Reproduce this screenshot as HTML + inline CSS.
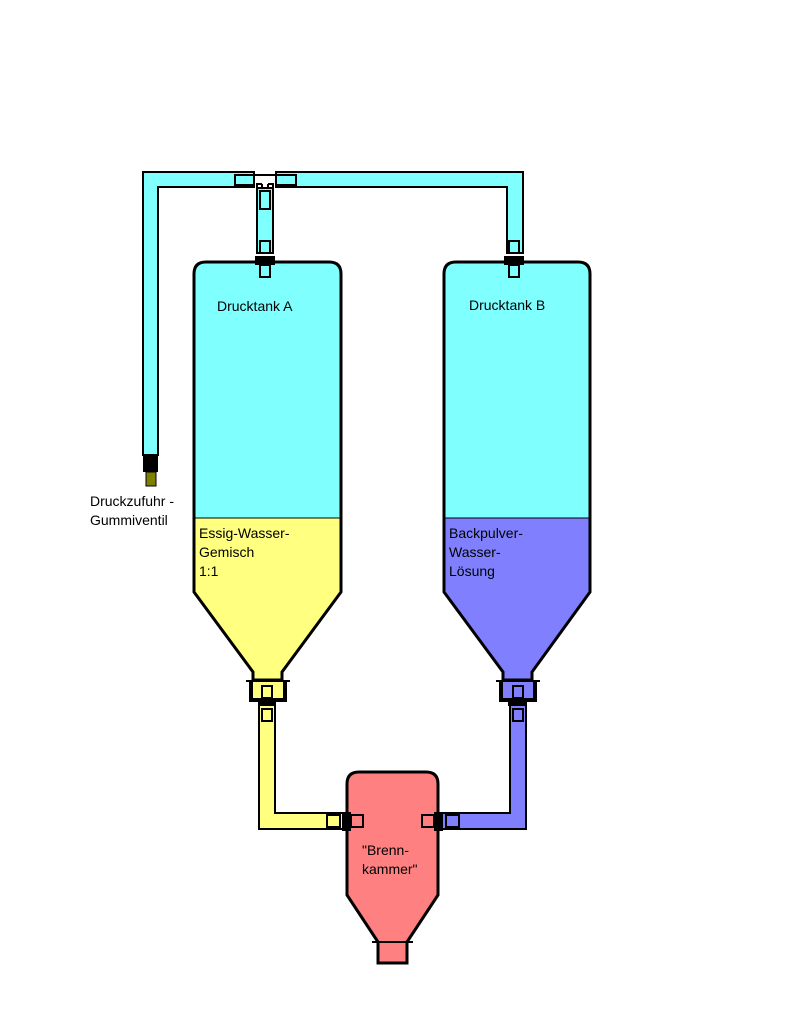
<!DOCTYPE html>
<html><head><style>html,body{margin:0;padding:0;background:#fff}svg{display:block}text{font-family:"Liberation Sans",sans-serif;font-size:14px;fill:#000}</style></head>
<body>
<svg width="800" height="1024" viewBox="0 0 800 1024" xmlns="http://www.w3.org/2000/svg">
<rect width="800" height="1024" fill="#fff"/>
<!-- top pipes -->
<path d="M143,172 H254 V187 H158 V455 H143 Z" fill="#80ffff" stroke="#000" stroke-width="2"/>
<path d="M276,172 H523 V253 H507 V187 H276 Z" fill="#80ffff" stroke="#000" stroke-width="2"/>
<rect x="257" y="188" width="16" height="65" fill="#80ffff" stroke="#000" stroke-width="2"/>
<path d="M254,175 H276 M257,187 V184 H262 M273,187 V184 H268 M262,184 V188 M268,184 V188" fill="none" stroke="#000" stroke-width="2"/>
<rect x="235" y="175" width="19" height="10" fill="#80ffff" stroke="#000" stroke-width="2"/>
<rect x="276" y="175" width="20" height="10" fill="#80ffff" stroke="#000" stroke-width="2"/>
<rect x="260" y="191" width="10" height="18" fill="#80ffff" stroke="#000" stroke-width="2"/>
<!-- valve -->
<rect x="143" y="455" width="15" height="17" fill="#000"/>
<rect x="146" y="472" width="10" height="14" fill="#808000" stroke="#000" stroke-width="1"/>
<!-- Tank A -->
<path d="M194,274 Q194,262 206,262 H329 Q341,262 341,274 V518 H194 Z" fill="#80ffff"/>
<path d="M194,518 H341 V592 L282,672 V680 H253 V672 L194,592 Z" fill="#ffff80"/>
<path d="M194,274 Q194,262 206,262 H329 Q341,262 341,274 V592 L282,672 V680 H253 V672 L194,592 Z" fill="none" stroke="#000" stroke-width="3"/>
<line x1="194" y1="518" x2="341" y2="518" stroke="#000" stroke-width="1"/>
<!-- Tank B -->
<path d="M444,274 Q444,262 456,262 H578 Q590,262 590,274 V518 H444 Z" fill="#80ffff"/>
<path d="M444,518 H590 V592 L532,672 V680 H503 V672 L444,592 Z" fill="#8080ff"/>
<path d="M444,274 Q444,262 456,262 H578 Q590,262 590,274 V592 L532,672 V680 H503 V672 L444,592 Z" fill="none" stroke="#000" stroke-width="3"/>
<line x1="444" y1="518" x2="590" y2="518" stroke="#000" stroke-width="1"/>
<!-- top fittings -->
<g stroke="#000" stroke-width="2">
<rect x="260" y="241" width="10" height="12" fill="#80ffff"/>
<rect x="260" y="265" width="10" height="12" fill="#80ffff"/>
<rect x="509" y="241" width="10" height="12" fill="#80ffff"/>
<rect x="509" y="265" width="10" height="12" fill="#80ffff"/>
</g>
<rect x="255" y="256" width="20" height="9" fill="#000"/>
<rect x="504" y="256" width="20" height="9" fill="#000"/>
<!-- bottom pipes -->
<path d="M259,702 H275 V813 H347 V829 H259 Z" fill="#ffff80" stroke="#000" stroke-width="2"/>
<path d="M510,702 H526 V829 H438 V813 H510 Z" fill="#8080ff" stroke="#000" stroke-width="2"/>
<!-- caps -->
<rect x="251" y="681" width="34" height="19" fill="#ffff80"/>
<rect x="501" y="681" width="34" height="19" fill="#8080ff"/>
<g fill="none" stroke="#000" stroke-width="4">
<path d="M251,681 V700 H285 V681"/>
<path d="M501,681 V700 H535 V681"/>
</g>
<g stroke="#000" stroke-width="2">
<line x1="246" y1="681" x2="290" y2="681"/>
<line x1="496" y1="681" x2="540" y2="681"/>
<rect x="262" y="686" width="10" height="12" fill="#ffff80"/>
<rect x="262" y="709" width="10" height="12" fill="#ffff80"/>
<rect x="513" y="686" width="10" height="12" fill="#8080ff"/>
<rect x="513" y="709" width="10" height="12" fill="#8080ff"/>
</g>
<rect x="258" y="698" width="18" height="8" fill="#000"/>
<rect x="508" y="698" width="18" height="8" fill="#000"/>
<!-- chamber -->
<path d="M347,784 Q347,772 359,772 H426 Q438,772 438,784 V895 L407,942 V963 H378 V942 L347,895 Z" fill="#ff8080" stroke="#000" stroke-width="3"/>
<line x1="372" y1="942" x2="413" y2="942" stroke="#000" stroke-width="2"/>
<g stroke="#000" stroke-width="2">
<rect x="327" y="815" width="13" height="12" fill="#ffff80"/>
<rect x="351" y="815" width="12" height="12" fill="#ff8080"/>
<rect x="422" y="815" width="12" height="12" fill="#ff8080"/>
<rect x="446" y="815" width="13" height="12" fill="#8080ff"/>
</g>
<rect x="342" y="812" width="9" height="19" fill="#000"/>
<rect x="434" y="812" width="9" height="19" fill="#000"/>
<!-- labels -->
<text x="217" y="311">Drucktank A</text>
<text x="469" y="310">Drucktank B</text>
<text x="199" y="538">Essig-Wasser-</text>
<text x="199" y="557">Gemisch</text>
<text x="199" y="576">1:1</text>
<text x="449" y="538">Backpulver-</text>
<text x="449" y="557">Wasser-</text>
<text x="449" y="576">Lösung</text>
<text x="90" y="506">Druckzufuhr -</text>
<text x="90" y="525">Gummiventil</text>
<text x="362" y="855">"Brenn-</text>
<text x="362" y="874">kammer"</text>
</svg>
</body></html>
